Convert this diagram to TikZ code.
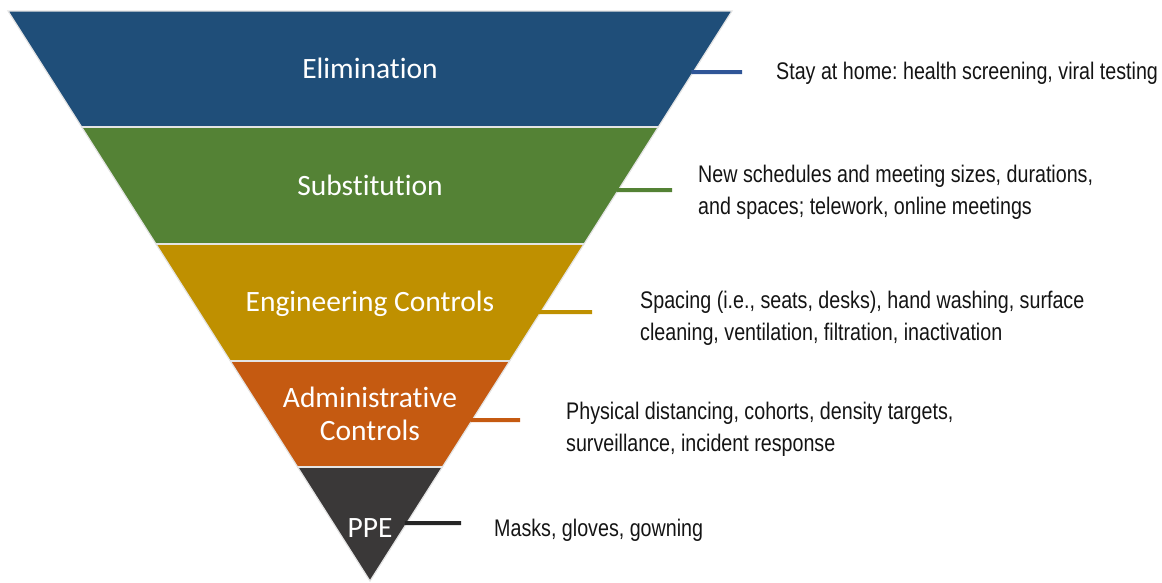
\documentclass[tikz,border=0pt]{standalone}
\usepackage{fontspec}
\usetikzlibrary{calc}
\frenchspacing
\newfontfamily\labelfont[Ligatures=NoCommon]{Carlito}
\newfontfamily\descfont[FakeStretch=0.82]{Liberation Sans}
\definecolor{elim}{HTML}{1F4E79}
\definecolor{subst}{HTML}{548235}
\definecolor{engin}{HTML}{BF9000}
\definecolor{admin}{HTML}{C55A11}
\definecolor{ppe}{HTML}{3A3838}
\definecolor{elimline}{HTML}{2F5597}
\definecolor{substline}{HTML}{548235}
\definecolor{enginline}{HTML}{BF9000}
\definecolor{adminline}{HTML}{C55A11}
\definecolor{ppeline}{HTML}{262626}
\definecolor{bandedge}{HTML}{E4E4E4}
\begin{document}
\begin{tikzpicture}[x=1pt,y=-1pt,
  band/.style={draw=bandedge, line width=1.2pt, line join=miter},
  lbl/.style={text=white, font=\labelfont\fontsize{29.5}{33}\selectfont, align=center, inner sep=0pt, anchor=base},
  desc/.style={text=black!92, font=\descfont\fontsize{24}{32}\selectfont\frenchspacing, align=left, anchor=base west, inner sep=0pt},
  lead/.style={line width=4pt}]
\useasboundingbox (0,0) rectangle (1162,582);
% corners
\coordinate (TL) at (8,11);
\coordinate (TR) at (732,11);
\coordinate (A) at (370,581);
% band boundaries
\coordinate (L1) at ($(TL)!0.20351!(A)$);
\coordinate (R1) at ($(TR)!0.20351!(A)$);
\coordinate (L2) at ($(TL)!0.40877!(A)$);
\coordinate (R2) at ($(TR)!0.40877!(A)$);
\coordinate (L3) at ($(TL)!0.61404!(A)$);
\coordinate (R3) at ($(TR)!0.61404!(A)$);
\coordinate (L4) at ($(TL)!0.8!(A)$);
\coordinate (R4) at ($(TR)!0.8!(A)$);
% bands
\fill[elim] (TL) -- (TR) -- (R1) -- (L1) -- cycle;
\fill[subst] (L1) -- (R1) -- (R2) -- (L2) -- cycle;
\fill[engin] (L2) -- (R2) -- (R3) -- (L3) -- cycle;
\fill[admin] (L3) -- (R3) -- (R4) -- (L4) -- cycle;
\fill[ppe] (L4) -- (R4) -- (A) -- cycle;
\draw[band] (TL) -- (TR) -- (A) -- cycle;
\draw[band] (L1) -- (R1) (L2) -- (R2) (L3) -- (R3) (L4) -- (R4);
% band labels
\node[lbl] (elimlbl) at (370,78) {Elimination};
\node[lbl] (subslbl) at (370,195) {Substitution};
\node[lbl] (englbl) at (370,311.5) {Engineering Controls};
\node[lbl] (admlbl) at (370,440) {Administrative\\Controls};
\node[lbl] (ppelbl) at (370,537) {PPE};
% leader starts on right edge
\coordinate (s1) at ($(TR)!0.10702!(A)$);
\coordinate (s2) at ($(TR)!0.31404!(A)$);
\coordinate (s3) at ($(TR)!0.52807!(A)$);
\coordinate (s4) at ($(TR)!0.71754!(A)$);
\coordinate (s5) at ($(TR)!0.89825!(A)$);
\coordinate (e1) at (742,72);
\coordinate (e2) at (672,190);
\coordinate (e3) at (592,312);
\coordinate (e4) at (520,420);
\coordinate (e5) at (461,523);
\draw[lead, elimline] ($(s1)+(-2,0)$) -- (e1);
\draw[lead, substline] ($(s2)+(-2,0)$) -- (e2);
\draw[lead, enginline] ($(s3)+(-2,0)$) -- (e3);
\draw[lead, adminline] ($(s4)+(-2,0)$) -- (e4);
\draw[lead, ppeline] ($(s5)+(-2,0)$) -- (e5);
% descriptions
\node[desc] (d1) at (776,79.5) {Stay at home: health screening, viral testing};
\node[desc] (d2) at (698,214.5) {New schedules and meeting sizes, durations,\\and spaces; telework, online meetings};
\node[desc] (d3) at (640,340.5) {Spacing (i.e., seats, desks), hand washing, surface\\cleaning, ventilation, filtration, inactivation};
\node[desc] (d4) at (566,451.5) {Physical distancing, cohorts, density targets,\\surveillance, incident response};
\node[desc] (d5) at (494,536.5) {Masks, gloves, gowning};
\end{tikzpicture}
\end{document}
